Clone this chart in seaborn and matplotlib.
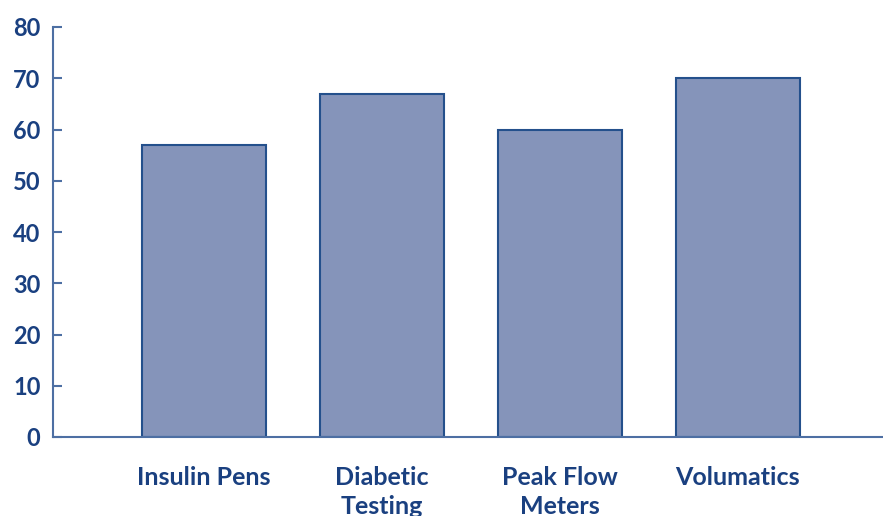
import pandas as pd
import matplotlib.pyplot as plt
import seaborn as sns

categories = ["Insulin Pens", "Diabetic\nTesting", "Peak Flow\nMeters", "Volumatics"]
values = [57, 67, 60, 70]
y_ticks = [0, 10, 20, 30, 40, 50, 60, 70, 80]

navy = "#1a4080"
bar_fill = "#8594ba"
bar_edge = "#24508c"
axis_col = "#4d6fa3"

df = pd.DataFrame({"category": categories, "value": values})

sns.set_style("white")
plt.rcParams["font.family"] = ["Lato", "DejaVu Sans"]

fig = plt.figure(figsize=(8.83, 5.16), dpi=100)
ax = fig.add_axes([53 / 883, 79 / 516, 830 / 883, 410 / 516])

sns.barplot(data=df, x="category", y="value", color=bar_fill, saturation=1,
            edgecolor=bar_edge, linewidth=1.5, width=0.697, ax=ax)

ax.set_ylim(0, 80)
ax.set_xlim(-0.848, 3.815)
ax.set_yticks(y_ticks)
ax.set_xlabel("")
ax.set_ylabel("")

sns.despine(ax=ax, top=True, right=True)
ax.spines["left"].set_color(axis_col)
ax.spines["bottom"].set_color(axis_col)
ax.spines["left"].set_linewidth(1.5)
ax.spines["bottom"].set_linewidth(1.5)

# ticks point into the plot on the y axis, none on x
ax.tick_params(axis="y", left=True, direction="in", length=6.5, width=1.5, color=axis_col,
               pad=9, labelsize=17, labelcolor=navy)
ax.tick_params(axis="x", bottom=False, length=0, pad=21, labelsize=18, labelcolor=navy)
for lbl in ax.get_yticklabels() + ax.get_xticklabels():
    lbl.set_fontweight("bold")
for lbl in ax.get_xticklabels():
    lbl.set_linespacing(1.3)
    lbl.set_verticalalignment("top")

plt.savefig("out.png", dpi=100)
